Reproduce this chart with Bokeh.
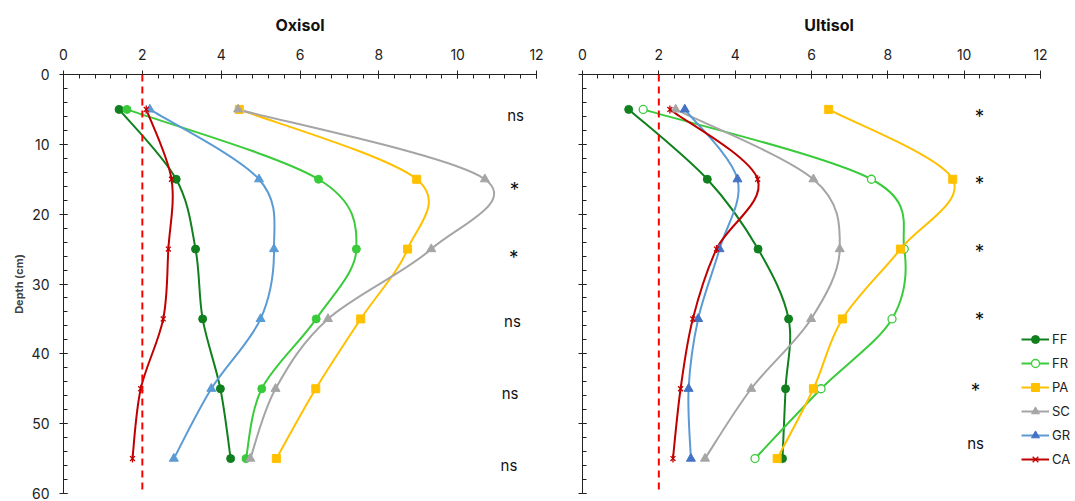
import numpy as np
from bokeh.plotting import figure
from bokeh.layouts import row
from bokeh.models import Range1d, FixedTicker, Span, Legend, LegendItem
from bokeh.embed import file_html
from bokeh.resources import INLINE
from bokeh.core.properties import value

# ---------------- data ----------------
depth = [5, 15, 25, 35, 45, 55]
series = ["FF", "FR", "PA", "SC", "GR", "CA"]

ox_FF = [1.41, 2.86, 3.35, 3.53, 3.98, 4.24]
ox_FR = [1.61, 6.47, 7.43, 6.41, 5.03, 4.63]
ox_PA = [4.46, 8.96, 8.73, 7.54, 6.40, 5.40]
ox_SC = [4.43, 10.69, 9.33, 6.71, 5.38, 4.74]
ox_GR = [2.19, 4.96, 5.34, 5.00, 3.75, 2.80]
ox_CA = [2.10, 2.74, 2.66, 2.53, 1.96, 1.75]

ul_FF = [1.21, 3.27, 4.60, 5.40, 5.32, 5.24]
ul_FR = [1.59, 7.57, 8.43, 8.11, 6.25, 4.52]
ul_PA = [6.45, 9.70, 8.33, 6.81, 6.05, 5.10]
ul_SC = [2.44, 6.05, 6.74, 5.99, 4.42, 3.21]
ul_GR = [2.68, 4.06, 3.59, 3.03, 2.78, 2.84]
ul_CA = [2.29, 4.59, 3.51, 2.89, 2.57, 2.37]

ox_sig = ["ns", "*", "*", "ns", "ns", "ns"]
ul_sig = ["*", "*", "*", "*", "*", "ns"]

x_ticks = [0, 2, 4, 6, 8, 10, 12]
y_ticks = [0, 10, 20, 30, 40, 50, 60]
threshold = 2

# label placement (positions only)
ox_sig_x = [11.47, 11.44, 11.42, 11.39, 11.33, 11.30]
ox_sig_y = [5.9, 15.5, 25.2, 35.4, 45.7, 56.0]
ul_sig_x = [10.4, 10.4, 10.4, 10.4, 10.3, 10.3]
ul_sig_y = [5.0, 14.6, 24.4, 34.1, 44.3, 52.9]

FONT = "Inter"
C_FF = "#10801E"
C_FR = "#3ACB3A"
C_PA = "#FFC000"
C_SC = "#A5A5A5"
C_GR = "#5B9BD5"
C_GR2 = "#4472C4"
C_CA = "#C00000"

H = 501
TOP = 74
BOTTOM = 8


def smooth(p, xs, ys, color, width=2.0):
    x = np.asarray(xs, float)
    y = np.asarray(ys, float)
    n = len(x)
    xp = np.concatenate([[x[0]], x, [x[-1]]])
    yp = np.concatenate([[y[0]], y, [y[-1]]])
    cx0 = x[:-1] + (xp[2:n + 1] - xp[0:n - 1]) / 6.0
    cy0 = y[:-1] + (yp[2:n + 1] - yp[0:n - 1]) / 6.0
    cx1 = x[1:] - (xp[3:n + 2] - xp[1:n]) / 6.0
    cy1 = y[1:] - (yp[3:n + 2] - yp[1:n]) / 6.0
    return p.bezier(x0=x[:-1], y0=y[:-1], x1=x[1:], y1=y[1:],
                    cx0=cx0, cy0=cy0, cx1=cx1, cy1=cy1,
                    line_color=color, line_width=width)


def make_fig(title, w, left, right, xmax, show_ylabels):
    p = figure(output_backend="svg", toolbar_location=None,
               width=w, height=H,
               min_border_left=left, min_border_right=right,
               min_border_top=TOP, min_border_bottom=BOTTOM,
               x_range=Range1d(0, xmax), y_range=Range1d(60, 0),
               x_axis_location="above", title=title)
    p.title.align = "center"
    p.title.text_font = FONT
    p.title.text_font_size = "16px"
    p.title.text_font_style = "bold"
    p.title.text_color = "#111111"
    p.title.standoff = 21
    p.outline_line_color = None
    p.xgrid.visible = False
    p.ygrid.visible = False
    p.background_fill_color = "white"
    p.border_fill_color = "white"

    xa = p.xaxis[0]
    xa.ticker = FixedTicker(ticks=x_ticks, minor_ticks=list(np.arange(0, 12.01, 0.4)))
    xa.bounds = (0, 12)
    ya = p.yaxis[0]
    ya.ticker = FixedTicker(ticks=y_ticks, minor_ticks=list(range(0, 61, 2)))
    for ax in (xa, ya):
        ax.axis_line_color = "#222222"
        ax.major_tick_line_color = "#222222"
        ax.minor_tick_line_color = "#222222"
        ax.major_tick_in = 4
        ax.major_tick_out = 4
        ax.minor_tick_in = 4
        ax.minor_tick_out = 0
        ax.major_label_text_font = FONT
        ax.major_label_text_font_size = "14px"
        ax.major_label_text_color = "#222222"
    xa.major_label_standoff = 11
    ya.major_label_standoff = 10
    if show_ylabels:
        ya.axis_label = "Depth (cm)"
        ya.axis_label_text_font = FONT
        ya.axis_label_text_font_size = "11px"
        ya.axis_label_text_font_style = "bold"
        ya.axis_label_standoff = 3
    else:
        ya.major_label_overrides = {t: "" for t in y_ticks}
        ya.major_label_standoff = 0

    p.add_layout(Span(location=threshold, dimension="height", line_color="#FF0000",
                      line_width=2, line_dash="7 5"))
    return p


# left panel: frame 63..536 ; right panel: frame 582.., 12 units over 458 px
p1 = make_fig("Oxisol", 546, 63, 10, 12, True)
R_LEFT = 36
R_W = 1075 - 546
px_per_unit = 458 / 12.0
p2 = make_fig("Ultisol", R_W, R_LEFT, 0, (R_W - R_LEFT) / px_per_unit, False)
p2.title.offset = -((R_W - R_LEFT) - 458) / 2.0

cols = [C_FF, C_FR, C_PA, C_SC, C_GR, C_CA]

# ---------------- Oxisol ----------------
ox = [ox_FF, ox_FR, ox_PA, ox_SC, ox_GR, ox_CA]
for vals, c in zip(ox, cols):
    smooth(p1, vals, depth, c)
p1.scatter(ox_FF, depth, marker="circle", size=8, color=C_FF)
p1.scatter(ox_FR, depth, marker="circle", size=8, color=C_FR)
p1.scatter(ox_PA, depth, marker="square", size=8, color=C_PA)
p1.scatter(ox_SC, depth, marker="triangle", size=9, color=C_SC)
p1.scatter(ox_GR, depth, marker="triangle", size=9, color=C_GR)
p1.scatter(ox_CA, depth, marker="x", size=7, line_color=C_CA, line_width=1.3)
p1.scatter(ox_CA, depth, marker="dash", size=8, angle=np.pi / 2, line_color=C_CA, line_width=1.3)

STAR_SHIFT = 1.0
p1.text(x=ox_sig_x, y=[v + (STAR_SHIFT if s == "*" else 0) for v, s in zip(ox_sig_y, ox_sig)],
        text=ox_sig, text_align="center", text_baseline="middle",
        text_font=value(FONT), text_font_size=[("19px" if s == "*" else "15px") for s in ox_sig],
        text_color="#111111")

# ---------------- Ultisol ----------------
ul = [ul_FF, ul_FR, ul_PA, ul_SC, ul_GR, ul_CA]
curves = [smooth(p2, vals, depth, c) for vals, c in zip(ul, cols)]
r_ff = p2.scatter(ul_FF, depth, marker="circle", size=8, color=C_FF)
r_fr = p2.scatter(ul_FR, depth, marker="circle", size=8, line_color=C_FR, fill_color="white", line_width=1.3)
r_pa = p2.scatter(ul_PA, depth, marker="square", size=8, color=C_PA)
r_sc = p2.scatter(ul_SC, depth, marker="triangle", size=9, color=C_SC)
r_gr = p2.scatter(ul_GR, depth, marker="triangle", size=9, color=C_GR2)
r_ca1 = p2.scatter(ul_CA, depth, marker="x", size=7, line_color=C_CA, line_width=1.3)
r_ca2 = p2.scatter(ul_CA, depth, marker="dash", size=8, angle=np.pi / 2, line_color=C_CA, line_width=1.3)

p2.text(x=ul_sig_x, y=[v + (STAR_SHIFT if s == "*" else 0) for v, s in zip(ul_sig_y, ul_sig)],
        text=ul_sig, text_align="center", text_baseline="middle",
        text_font=value(FONT), text_font_size=[("19px" if s == "*" else "15px") for s in ul_sig],
        text_color="#111111")

marks = [[r_ff], [r_fr], [r_pa], [r_sc], [r_gr], [r_ca1, r_ca2]]
items = [LegendItem(label=s, renderers=[cv] + m, index=0)
         for s, cv, m in zip(series, curves, marks)]
legend = Legend(items=items, location=(439, 24), orientation="vertical",
                glyph_width=28, glyph_height=20, label_height=20, spacing=4,
                label_standoff=3, padding=0, margin=0,
                border_line_color=None, background_fill_alpha=0,
                label_text_font=FONT, label_text_font_size="13px",
                label_text_color="#222222")
p2.add_layout(legend, "center")

layout = row(p1, p2, spacing=0)
open("out.html", "w").write(file_html(layout, INLINE))
